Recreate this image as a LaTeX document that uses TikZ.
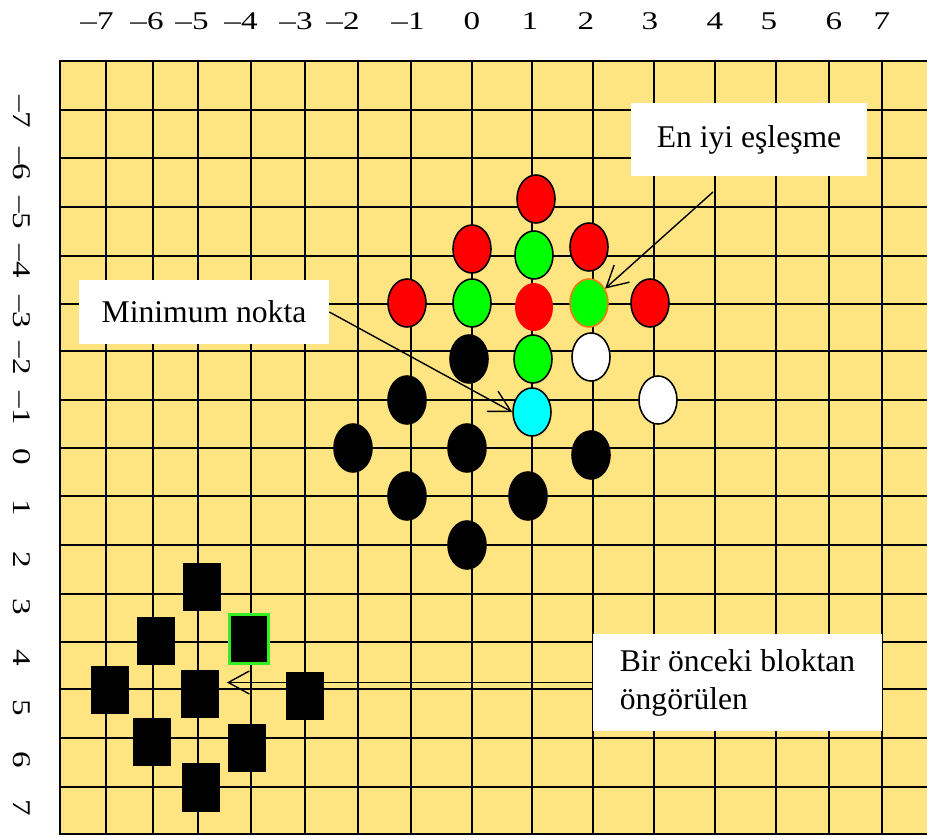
\documentclass[tikz,border=0pt]{standalone}
\usepackage{fontspec}
\setmainfont{Liberation Serif}
\usetikzlibrary{arrows.meta, shapes.geometric, calc}
\definecolor{boardyellow}{HTML}{FFE482}
\definecolor{bestorange}{HTML}{F07A10}
\definecolor{predgreen}{HTML}{33EE22}
\definecolor{mycyan}{HTML}{00FFFF}
\definecolor{mygreen}{HTML}{00FF00}
\newcommand{\axislabel}[1]{\scalebox{1.3}[1]{#1}}
\tikzset{
	axistext/.style={font=\fontsize{14.5}{17}\selectfont, inner sep=0pt}
}
\tikzset{
	boxtext/.style={fill=white, font=\fontsize{18}{21.6}\selectfont, inner sep=0pt}
}
\tikzset{
	searchpt/.style={ellipse, draw=black, line width=0.9pt, fill=#1,
		minimum width=0.76cm, minimum height=0.96cm, inner sep=0pt}
}
\tikzset{
	blockpt/.style={rectangle, fill=black, minimum width=0.78cm, minimum height=0.98cm, inner sep=0pt}
}
\tikzset{
	gridline/.style={draw=black, line width=1pt}
}
\tikzset{
	pointer/.style={draw=black, line width=0.8pt, -{Straight Barb[length=0.42cm, width=0.46cm]}}
}

\begin{document}
\begin{tikzpicture}[x=0.02cm, y=-0.02cm]
\useasboundingbox (0,0) rectangle (927,838);

\fill[boardyellow] (60,61) rectangle (927,834);
\foreach \gx in {106,153,198,251,305,358,411,472,532,593,654,715,776,829,882}
	\draw[gridline] (\gx,61) -- (\gx,834);
\foreach \gy in {110,158,207,256,304,351,400,448,496,545,594,642,689,738,787}
	\draw[gridline] (60,\gy) -- (927,\gy);
\draw[line width=1.4pt] (927,61) -- (60,61) -- (60,834) -- (927,834);

\foreach \lx/\lt [count=\i] in {97/–7,147/–6,192/–5,241/–4,296/–3,343/–2,408/–1,472/0,530/1,586/2,650/3,715/4,769/5,834/6,882/7}
	\node[axistext] (xl\i) at (\lx,21.5) {\axislabel{\lt}};
\foreach \ly/\lt [count=\i] in {112/–7,164/–6,213/–5,261/–4,312/–3,358/–2,408/–1,457/0,508/1,560/2,607/3,658/4,708/5,760/6,808/7}
	\node[axistext, rotate=-90] (yl\i) at (22,\ly) {\axislabel{\lt}};

\node[searchpt=red] (rA) at (536,199) {};
\node[searchpt=red] (rB) at (472,249) {};
\node[searchpt=red] (rC) at (589,247) {};
\node[searchpt=red] (rD) at (407,303) {};
\node[searchpt=red, draw=none] (rE) at (534,307) {};
\node[searchpt=red] (rF) at (650,303) {};
\node[searchpt=mygreen] (gA) at (534,255) {};
\node[searchpt=mygreen] (gB) at (472,303) {};
\node[searchpt=mygreen, draw=bestorange] (best) at (589,303) {};
\node[searchpt=mygreen] (gD) at (533,359) {};
\node[searchpt=white] (wA) at (591,357) {};
\node[searchpt=white] (wB) at (658,400) {};
\node[searchpt=mycyan] (minpt) at (532,412) {};
\node[searchpt=black] (bA) at (469,359) {};
\node[searchpt=black] (bB) at (407,400) {};
\node[searchpt=black] (bC) at (353,448) {};
\node[searchpt=black] (bD) at (467,448) {};
\node[searchpt=black] (bE) at (591,455) {};
\node[searchpt=black] (bF) at (407,496) {};
\node[searchpt=black] (bG) at (528,496) {};
\node[searchpt=black] (bH) at (467,545) {};

\node[blockpt] (sA) at (202,587) {};
\node[blockpt] (sB) at (156,641) {};
\node[blockpt, draw=predgreen, line width=1.2pt] (sC) at (249,639) {};
\node[blockpt] (sD) at (110,690) {};
\node[blockpt] (pred) at (200,694) {};
\node[blockpt] (sF) at (305,696) {};
\node[blockpt] (sG) at (152,742) {};
\node[blockpt] (sH) at (247,748) {};
\node[blockpt] (sI) at (201,787) {};

\node[boxtext, minimum width=5.0cm, minimum height=1.28cm] (minbox) at (204,312) {Minimum nokta};
\node[boxtext, minimum width=4.72cm, minimum height=1.46cm] (bestbox) at (749,139.5) {En iyi eşleşme};
\node[boxtext, minimum width=5.78cm, minimum height=1.94cm, align=left] (predbox) at (737.5,682.5) {Bir önceki bloktan\\öngörülen};

\coordinate (bestfrom) at (713,192);
\draw[pointer] (bestfrom) -- (best);
\draw[pointer] (minbox.east) -- (minpt.west);
\draw[pointer, shorten >=4pt] (predbox.west) -- (predbox.west -| pred.east);

\end{tikzpicture}
\end{document}
